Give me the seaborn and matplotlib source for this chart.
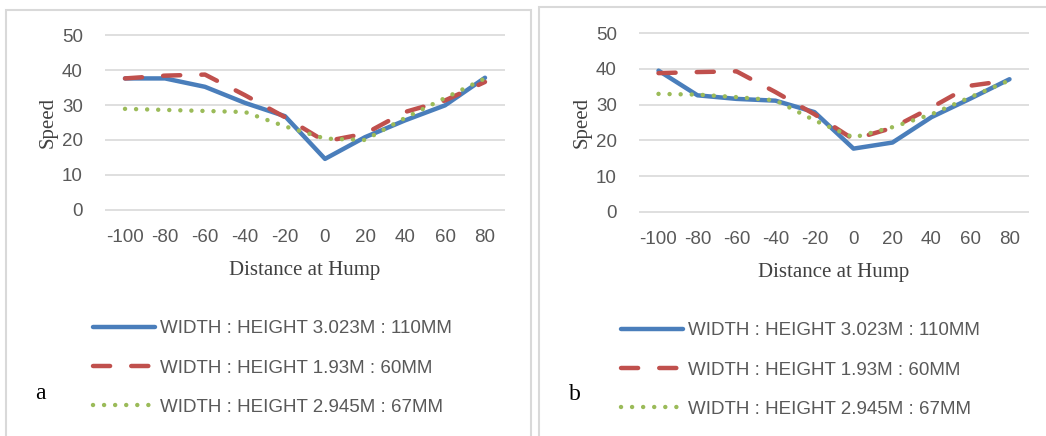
import matplotlib
matplotlib.use("Agg")
import matplotlib.pyplot as plt
from matplotlib.patches import Rectangle
import seaborn as sns
import pandas as pd

distance = [-100, -80, -60, -40, -20, 0, 20, 40, 60, 80]
series_names = ["WIDTH : HEIGHT 3.023M : 110MM",
                "WIDTH : HEIGHT 1.93M : 60MM",
                "WIDTH : HEIGHT 2.945M : 67MM"]

# panel a
a_blue = [37.6, 37.6, 35.2, 30.6, 26.8, 14.6, 20.8, 25.6, 29.9, 37.8]
a_red = [37.6, 38.4, 38.7, 32.8, 26.5, 19.6, 21.8, 28.0, 31.3, 36.6]
a_green = [28.9, 28.6, 28.3, 28.0, 23.9, 20.4, 20.0, 26.3, 32.0, 37.6]

# panel b
b_blue = [39.5, 32.6, 31.6, 31.1, 27.9, 17.7, 19.4, 26.5, 31.7, 37.1]
b_red = [38.8, 39.1, 39.3, 33.5, 27.3, 20.3, 23.5, 29.2, 35.3, 36.8]
b_green = [33.0, 32.8, 32.1, 31.2, 25.6, 20.8, 23.7, 27.3, 32.1, 36.8]

colors = ["#4A7EBB", "#C0504D", "#9BBB59"]
dash_map = {series_names[0]: "", series_names[1]: (3.85, 4.75), series_names[2]: (0.01, 2.48)}

W, H = 1046, 436


def px(x0, y0, x1, y1):
    return [x0 / W, 1 - y1 / H, (x1 - x0) / W, (y1 - y0) / H]


def make_df(blue, red, green):
    rows = []
    for name, vals in zip(series_names, [blue, red, green]):
        for d, v in zip(distance, vals):
            rows.append({"Distance": d, "Speed": v, "Series": name})
    return pd.DataFrame(rows)


sns.set_style("white")
plt.rcParams['font.family'] = ['Liberation Sans', 'DejaVu Sans']
plt.rcParams['axes.unicode_minus'] = False

fig = plt.figure(figsize=(10.46, 4.36), dpi=100)

# panel frames
fig.patches.append(Rectangle((6 / W, -0.05), 525 / W, 1 - 10 / H + 0.05, transform=fig.transFigure,
                             fill=False, edgecolor="#d9d9d9", lw=1.5))
fig.patches.append(Rectangle((539 / W, -0.05), 0.5, 1 - 7 / H + 0.05, transform=fig.transFigure,
                             fill=False, edgecolor="#d9d9d9", lw=1.5))

panels = [
    (px(105, 34, 505, 211), make_df(a_blue, a_red, a_green), (93, 320), (40, 393), "a"),
    (px(639, 32, 1029, 213), make_df(b_blue, b_red, b_green), (621, 322), (575, 395), "b"),
]

for rect, df, leg_xy, let_xy, letter in panels:
    ax = fig.add_axes(rect)
    sns.lineplot(data=df, x="Distance", y="Speed", hue="Series", style="Series",
                 palette=colors, dashes=dash_map, legend=False, ax=ax, sort=False)
    for ln, name in zip(ax.get_lines()[:3], series_names):
        ln.set_linewidth(3.2)
        ln.set_dash_capstyle("round")
        ln.set_solid_capstyle("round")
        if dash_map[name]:
            ln.set_dashes(dash_map[name])
    ax.set_xlim(-110, 90)
    ax.set_ylim(-0.3, 50.3)
    ax.set_xticks(distance)
    ax.set_yticks([0, 10, 20, 30, 40, 50])
    ax.yaxis.grid(True, color="#d9d9d9", lw=1.2)
    ax.set_axisbelow(True)
    for s in ax.spines.values():
        s.set_visible(False)
    ax.tick_params(axis="both", length=0, labelsize=13.5, labelcolor="#595959")
    ax.tick_params(axis="x", pad=13)
    ax.tick_params(axis="y", pad=16)
    ax.set_xlabel("Distance at Hump", family="Liberation Serif", fontsize=15,
                  color="#404040", labelpad=11)
    ax.set_ylabel("Speed", family="Liberation Serif", fontsize=15,
                  color="#404040", labelpad=3)
    fig.legend(ax.get_lines()[:3], series_names, loc="upper left",
               bbox_to_anchor=(leg_xy[0] / W, 1 - leg_xy[1] / H), frameon=False,
               fontsize=13.5, handlelength=3.3, handletextpad=0.3,
               labelspacing=1.19, borderpad=0, borderaxespad=0,
               labelcolor="#595959")
    fig.text(let_xy[0] / W, 1 - let_xy[1] / H, letter, family="Liberation Serif",
             fontsize=17, ha="center", va="center", color="black")

fig.savefig("out.png", dpi=100)
